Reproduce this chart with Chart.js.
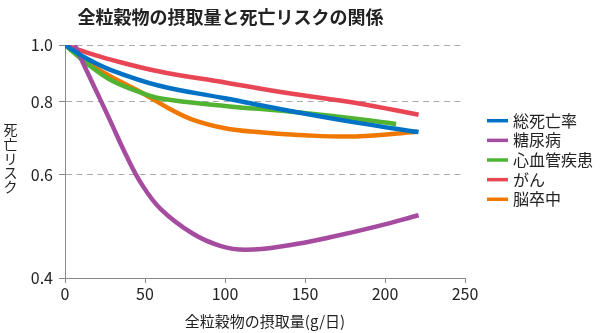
<!DOCTYPE html>
<html>
<head>
<meta charset="utf-8">
<script src="https://cdn.jsdelivr.net/npm/chart.js@4.4.1/dist/chart.umd.min.js"></script>
<style>
  html, body { margin: 0; padding: 0; background: #fff; }
  #wrap { width: 600px; height: 333px; }
</style>
</head>
<body>
<div id="wrap"><canvas id="c" width="600" height="333"></canvas></div>
<script>
const FONT = '"Noto Sans CJK JP", "Noto Sans", sans-serif';
const TEXT_COLOR = '#222';

const titleText = '全粒穀物の摂取量と死亡リスクの関係';
const xTitle = '全粒穀物の摂取量(g/日)';
const yTitle = '死亡リスク';
const yTicks = [0.4, 0.6, 0.8, 1.0];

const seriesNames = ['総死亡率', '糖尿病', '心血管疾患', 'がん', '脳卒中'];
const seriesColors = ['rgb(0,114,198)', 'rgb(165,75,160)', 'rgb(80,180,50)', 'rgb(233,70,85)', 'rgb(240,120,0)'];

// intake (g/day) and relative risk for each outcome
const totalX = [0, 13, 28, 59, 100, 140, 182, 221];
const totalY = [1.0, 0.95, 0.908, 0.852, 0.811, 0.772, 0.737, 0.710];

const diabetesX = [6, 17, 28, 38, 48, 60, 80, 97, 113, 140, 165, 195, 221];
const diabetesY = [1.0, 0.863, 0.745, 0.650, 0.578, 0.524, 0.476, 0.454, 0.447, 0.455, 0.469, 0.490, 0.512];

const cardioX = [0, 13, 28, 45, 60, 100, 140, 175, 207];
const cardioY = [1.0, 0.933, 0.873, 0.834, 0.810, 0.787, 0.770, 0.752, 0.733];

const cancerX = [0, 13, 28, 59, 100, 140, 182, 221];
const cancerY = [1.0, 0.972, 0.945, 0.901, 0.863, 0.827, 0.796, 0.760];

const strokeX = [0, 13, 28, 48, 65, 80, 100, 120, 146, 182, 220];
const strokeY = [1.0, 0.938, 0.885, 0.829, 0.779, 0.745, 0.721, 0.710, 0.702, 0.698, 0.711];

const seriesX = [totalX, diabetesX, cardioX, cancerX, strokeX];
const seriesY = [totalY, diabetesY, cardioY, cancerY, strokeY];

const datasets = seriesNames.map((name, i) => ({
  label: name,
  data: seriesX[i].map((x, j) => ({ x: x, y: seriesY[i][j] })),
  borderColor: seriesColors[i],
  backgroundColor: seriesColors[i],
  borderWidth: 4.5,
  pointRadius: 0,
  fill: false,
  tension: 0.4
}));

// title, upright vertical y-axis label and legend
const decorations = {
  id: 'decorations',
  afterDraw(chart) {
    const ctx = chart.ctx;
    ctx.save();
    ctx.fillStyle = TEXT_COLOR;
    ctx.textBaseline = 'middle';

    ctx.font = 'bold 18px ' + FONT;
    ctx.textAlign = 'center';
    ctx.fillText(titleText, 230.5, 17.5);

    ctx.font = '14px ' + FONT;
    const chars = Array.from(yTitle);
    chars.forEach((ch, i) => ctx.fillText(ch, 10.5, 130 + i * 14.2));

    ctx.font = '16px ' + FONT;
    ctx.textAlign = 'left';
    seriesNames.forEach((name, i) => {
      const y = 120.7 + i * 19.65;
      ctx.strokeStyle = seriesColors[i];
      ctx.lineWidth = 3.5;
      ctx.beginPath();
      ctx.moveTo(487, y);
      ctx.lineTo(508, y);
      ctx.stroke();
      ctx.fillStyle = TEXT_COLOR;
      ctx.fillText(name, 513, y);
    });
    ctx.restore();
  }
};

new Chart(document.getElementById('c'), {
  type: 'line',
  data: { datasets: datasets },
  plugins: [decorations],
  options: {
    responsive: false,
    animation: false,
    devicePixelRatio: 1,
    layout: { padding: { top: 45, right: 135, bottom: 0, left: 0 } },
    plugins: {
      legend: { display: false },
      title: { display: false },
      tooltip: { enabled: false }
    },
    scales: {
      x: {
        type: 'linear',
        min: 0,
        max: 250,
        ticks: { stepSize: 50, color: TEXT_COLOR, font: { family: FONT, size: 16 }, padding: 1, maxRotation: 0 },
        grid: { drawOnChartArea: false, tickLength: 5, tickColor: '#888' },
        border: { color: '#888', width: 1 },
        title: { display: true, text: xTitle, color: TEXT_COLOR, font: { family: FONT, size: 15 }, padding: { top: 0, bottom: 3 } },
        afterFit(scale) { scale.height = 55; }
      },
      y: {
        type: 'logarithmic',
        min: 0.4,
        max: 1.0,
        afterBuildTicks(scale) { scale.ticks = yTicks.map(v => ({ value: v })); },
        ticks: {
          color: TEXT_COLOR,
          font: { family: FONT, size: 16 },
          padding: 6,
          callback: v => Number(v).toFixed(1)
        },
        grid: {
          color: c => (c.tick && c.tick.value === 0.4) ? 'rgba(0,0,0,0)' : '#aaa',
          tickColor: '#888',
          tickLength: 6,
          lineWidth: 1
        },
        border: { color: '#888', width: 1, dash: [6, 4.5] },
        afterFit(scale) { scale.width = 65; }
      }
    }
  }
});
</script>
</body>
</html>
